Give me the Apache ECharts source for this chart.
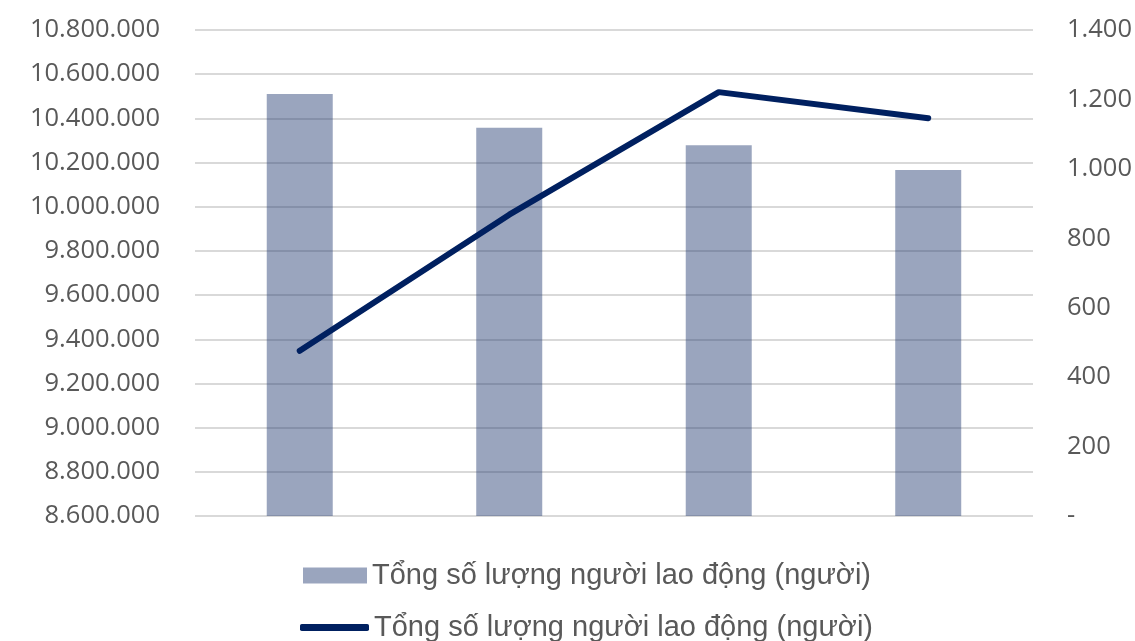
<html>
<head>
    <meta charset="UTF-8">
    <title>Tổng số lượng người lao động</title>
    <style type="text/css">
        body{
            margin: 0;
            background: #fff;
        }
        #main{
            width: 1135px;
            height: 641px;
        }
    </style>
</head>
<body>
    <div id="main"></div>
</body>
    <script src="https://cdn.jsdelivr.net/npm/echarts@6/dist/echarts.min.js"></script>
    <script type="text/javascript">

    // du lieu doc tu hinh
    var categories = ['Kỳ 1', 'Kỳ 2', 'Kỳ 3', 'Kỳ 4'];
    var barName = 'Tổng số lượng người lao động (người)';
    var lineName = 'Tổng số lượng người lao động (người)\u200b'; // khac ten de legend khong gop
    var barValues = [10510000, 10358000, 10278000, 10166000];
    var lineValues = [476, 868, 1221, 1146];
    var leftTicks = [8600000, 10800000, 200000];   // min, max, interval
    var rightTicks = [0, 1400, 200];

    function dotNumber(v) {
        return String(v).replace(/\B(?=(\d{3})+(?!\d))/g, '.');
    }

    var legendText = {
        color: '#595959',
        fontFamily: 'Liberation Sans',
        fontSize: 29
    };

    var option = {
        backgroundColor: '#fff',
        animation: false,
        grid: {
            left: 195,
            right: 100,
            top: 30,
            bottom: 125
        },
        legend: [{
            left: 298,
            top: 556,
            itemWidth: 64,
            itemHeight: 16,
            data: [{ name: barName, icon: 'rect' }],
            textStyle: Object.assign({ padding: [0, 0, 5, 0] }, legendText)
        }, {
            left: 295,
            top: 608,
            itemWidth: 69,
            itemHeight: 7,
            data: [{ name: lineName, icon: 'roundRect' }],
            textStyle: Object.assign({ padding: [0, 0, 6, 0] }, legendText)
        }],
        xAxis: [{
            type: 'category',
            data: categories,
            axisLine: { show: false },
            axisTick: { show: false },
            axisLabel: { show: false }
        }],
        yAxis: [{
            type: 'value',
            min: leftTicks[0],
            max: leftTicks[1],
            interval: leftTicks[2],
            axisLine: { show: false },
            axisTick: { show: false },
            splitLine: { lineStyle: { color: '#d9d9d9', width: 2 } },
            axisLabel: {
                color: '#595959',
                fontFamily: 'Open Sans',
                fontSize: 25.5,
                margin: 35,
                formatter: function (v) { return dotNumber(v); }
            }
        }, {
            type: 'value',
            min: rightTicks[0],
            max: rightTicks[1],
            interval: rightTicks[2],
            axisLine: { show: false },
            axisTick: { show: false },
            splitLine: { show: false },
            axisLabel: {
                color: '#595959',
                fontFamily: 'Open Sans',
                fontSize: 25.5,
                margin: 34,
                formatter: function (v) { return v === 0 ? '-' : dotNumber(v); }
            }
        }],
        series: [{
            name: barName,
            type: 'bar',
            yAxisIndex: 0,
            barWidth: 66,
            data: barValues,
            itemStyle: { color: 'rgba(32,56,110,0.45)' }
        }, {
            name: lineName,
            type: 'line',
            yAxisIndex: 1,
            data: lineValues,
            symbol: 'none',
            lineStyle: { color: '#002060', width: 6, cap: 'round', join: 'round' },
            itemStyle: { color: '#002060' }
        }]
    };

    var myChart1 = echarts.init(document.getElementById('main'));
    myChart1.setOption(option);
    </script>
</html>
